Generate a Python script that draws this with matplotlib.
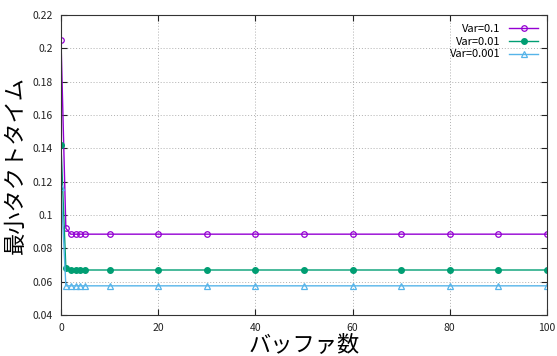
import matplotlib.pyplot as plt

plt.rcParams['font.family'] = ['Noto Sans CJK JP', 'DejaVu Sans']

buffers = [0, 1, 2, 3, 4, 5, 10, 20, 30, 40, 50, 60, 70, 80, 90, 100]
var_01 = [0.205, 0.092, 0.0885, 0.0885, 0.0885, 0.0885, 0.0885, 0.0885,
          0.0885, 0.0885, 0.0885, 0.0885, 0.0885, 0.0885, 0.0885, 0.0885]
var_001 = [0.142, 0.068, 0.067, 0.067, 0.067, 0.067, 0.067, 0.067,
           0.067, 0.067, 0.067, 0.067, 0.067, 0.067, 0.067, 0.067]
var_0001 = [0.117, 0.0575, 0.0575, 0.0575, 0.0575, 0.0575, 0.0575, 0.0575,
            0.0575, 0.0575, 0.0575, 0.0575, 0.0575, 0.0575, 0.0575, 0.0575]

fig = plt.figure(figsize=(5.57, 3.56), dpi=100)
ax = fig.add_axes([61 / 557, 1 - 315 / 356, 486 / 557, 300 / 356])

ax.plot(buffers, var_01, color="#9400D3", marker="o", mfc="none", ms=4,
        mew=0.9, lw=1, label="Var=0.1")
ax.plot(buffers, var_001, color="#009E73", marker="o", ms=4,
        lw=1, label="Var=0.01")
ax.plot(buffers, var_0001, color="#56B4E9", marker="^", mfc="none", ms=4,
        mew=0.9, lw=1, label="Var=0.001")

ax.set_xlim(0, 100)
ax.set_ylim(0.04, 0.22)
ax.set_xticks(range(0, 101, 20))
ax.set_yticks([0.04, 0.06, 0.08, 0.1, 0.12, 0.14, 0.16, 0.18, 0.2, 0.22])
ax.set_yticklabels(["0.04", "0.06", "0.08", "0.1", "0.12", "0.14", "0.16",
                    "0.18", "0.2", "0.22"])
ax.tick_params(direction="in", top=True, right=True, labelsize=7.5,
               colors="#222222", length=4, pad=6)
ax.grid(True, linestyle=(0, (1, 2)), color="#b0b0b0", linewidth=0.7)
for s in ax.spines.values():
    s.set_color("#333333")

ax.set_xlabel("バッファ数", fontsize=16, labelpad=0)
ax.set_ylabel("最小タクトタイム", fontsize=16, labelpad=4)

ax.legend(loc="upper right", frameon=False, markerfirst=False, fontsize=8,
          handlelength=2.6, borderaxespad=0.4, labelspacing=0.25)

plt.savefig("out.png", dpi=100)
